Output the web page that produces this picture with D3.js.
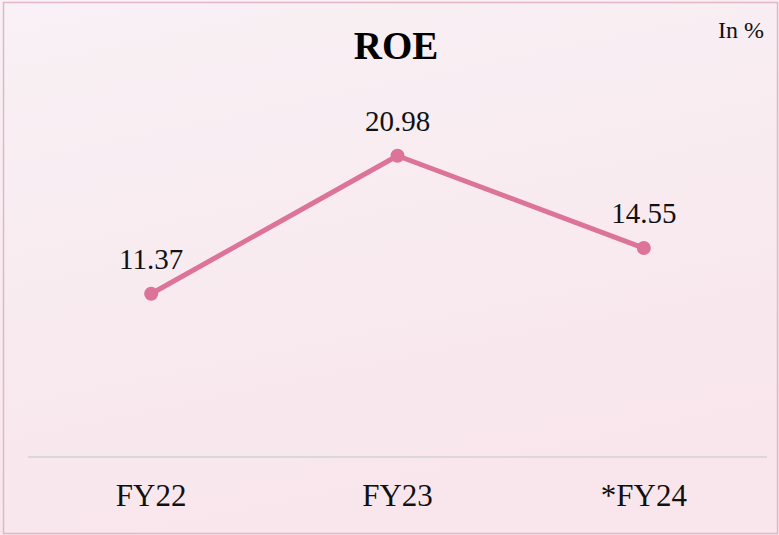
<!DOCTYPE html>
<html>
<head>
<meta charset="utf-8">
<script src="https://cdn.jsdelivr.net/npm/d3@7"></script>
<style>
  body { margin: 0; background: #fff; }
  svg { display: block; }
</style>
</head>
<body>
<div id="chart"></div>
<script>
// data
var categories = ["FY22", "FY23", "*FY24"];
var roeValues = [11.37, 20.98, 14.55];
var valueLabels = ["11.37", "20.98", "14.55"];

var w = 779, h = 535;
var margin = { left: 28, right: 12, top: 98, bottom: 78 };

var svg = d3.select("#chart").append("svg")
  .attr("width", w)
  .attr("height", h);

// background
var defs = svg.append("defs");
var grad = defs.append("linearGradient")
  .attr("id", "bg").attr("x1", "0").attr("y1", "0").attr("x2", "0.3").attr("y2", "1");
grad.append("stop").attr("offset", "0%").attr("stop-color", "#f8f1f5");
grad.append("stop").attr("offset", "55%").attr("stop-color", "#f8ebf0");
grad.append("stop").attr("offset", "100%").attr("stop-color", "#f9e6ec");

svg.append("rect")
  .attr("x", 0).attr("y", 0).attr("width", w).attr("height", h)
  .attr("fill", "url(#bg)");
svg.append("rect")
  .attr("x", 3.5).attr("y", 2.5).attr("width", w - 5).attr("height", h - 4)
  .attr("fill", "none")
  .attr("stroke", "#e2b6c8")
  .attr("stroke-width", 1.5);

// scales
var x = d3.scaleBand()
  .domain(categories)
  .range([margin.left, w - margin.right]);

var y = d3.scaleLinear()
  .domain([0, 25])
  .range([h - margin.bottom, margin.top]);

// axis baseline
svg.append("line")
  .attr("x1", margin.left).attr("x2", w - margin.right)
  .attr("y1", y(0)).attr("y2", y(0))
  .attr("stroke", "#d9d9d9")
  .attr("stroke-width", 2);

// category labels
svg.selectAll("text.cat")
  .data(categories)
  .enter()
  .append("text")
  .attr("class", "cat")
  .attr("x", function(d) { return x(d) + x.bandwidth() / 2; })
  .attr("y", 506)
  .attr("text-anchor", "middle")
  .attr("font-family", "'Liberation Serif', 'Times New Roman', serif")
  .attr("font-size", "31px")
  .attr("fill", "#111")
  .text(function(d) { return d; });

// line
var line = d3.line()
  .x(function(d, i) { return x(categories[i]) + x.bandwidth() / 2; })
  .y(function(d) { return y(d); });

svg.append("path")
  .datum(roeValues)
  .attr("d", line)
  .attr("fill", "none")
  .attr("stroke", "#dd7399")
  .attr("stroke-width", 5)
  .attr("stroke-linejoin", "round");

svg.selectAll("circle")
  .data(roeValues)
  .enter()
  .append("circle")
  .attr("cx", function(d, i) { return x(categories[i]) + x.bandwidth() / 2; })
  .attr("cy", function(d) { return y(d); })
  .attr("r", 7)
  .attr("fill", "#dd7399");

// value labels
svg.selectAll("text.val")
  .data(roeValues)
  .enter()
  .append("text")
  .attr("class", "val")
  .attr("x", function(d, i) { return x(categories[i]) + x.bandwidth() / 2; })
  .attr("y", function(d) { return y(d) - 25; })
  .attr("text-anchor", "middle")
  .attr("font-family", "'Liberation Serif', 'Times New Roman', serif")
  .attr("font-size", "29px")
  .attr("fill", "#111")
  .text(function(d, i) { return valueLabels[i]; });

// title
svg.append("text")
  .attr("x", 396).attr("y", 59)
  .attr("text-anchor", "middle")
  .attr("font-family", "'Liberation Serif', 'Times New Roman', serif")
  .attr("font-weight", "bold")
  .attr("font-size", "39px")
  .attr("fill", "#000")
  .text("ROE");

svg.append("text")
  .attr("x", 764).attr("y", 38)
  .attr("text-anchor", "end")
  .attr("font-family", "'Liberation Serif', 'Times New Roman', serif")
  .attr("font-size", "24px")
  .attr("fill", "#111")
  .text("In %");
</script>
</body>
</html>
